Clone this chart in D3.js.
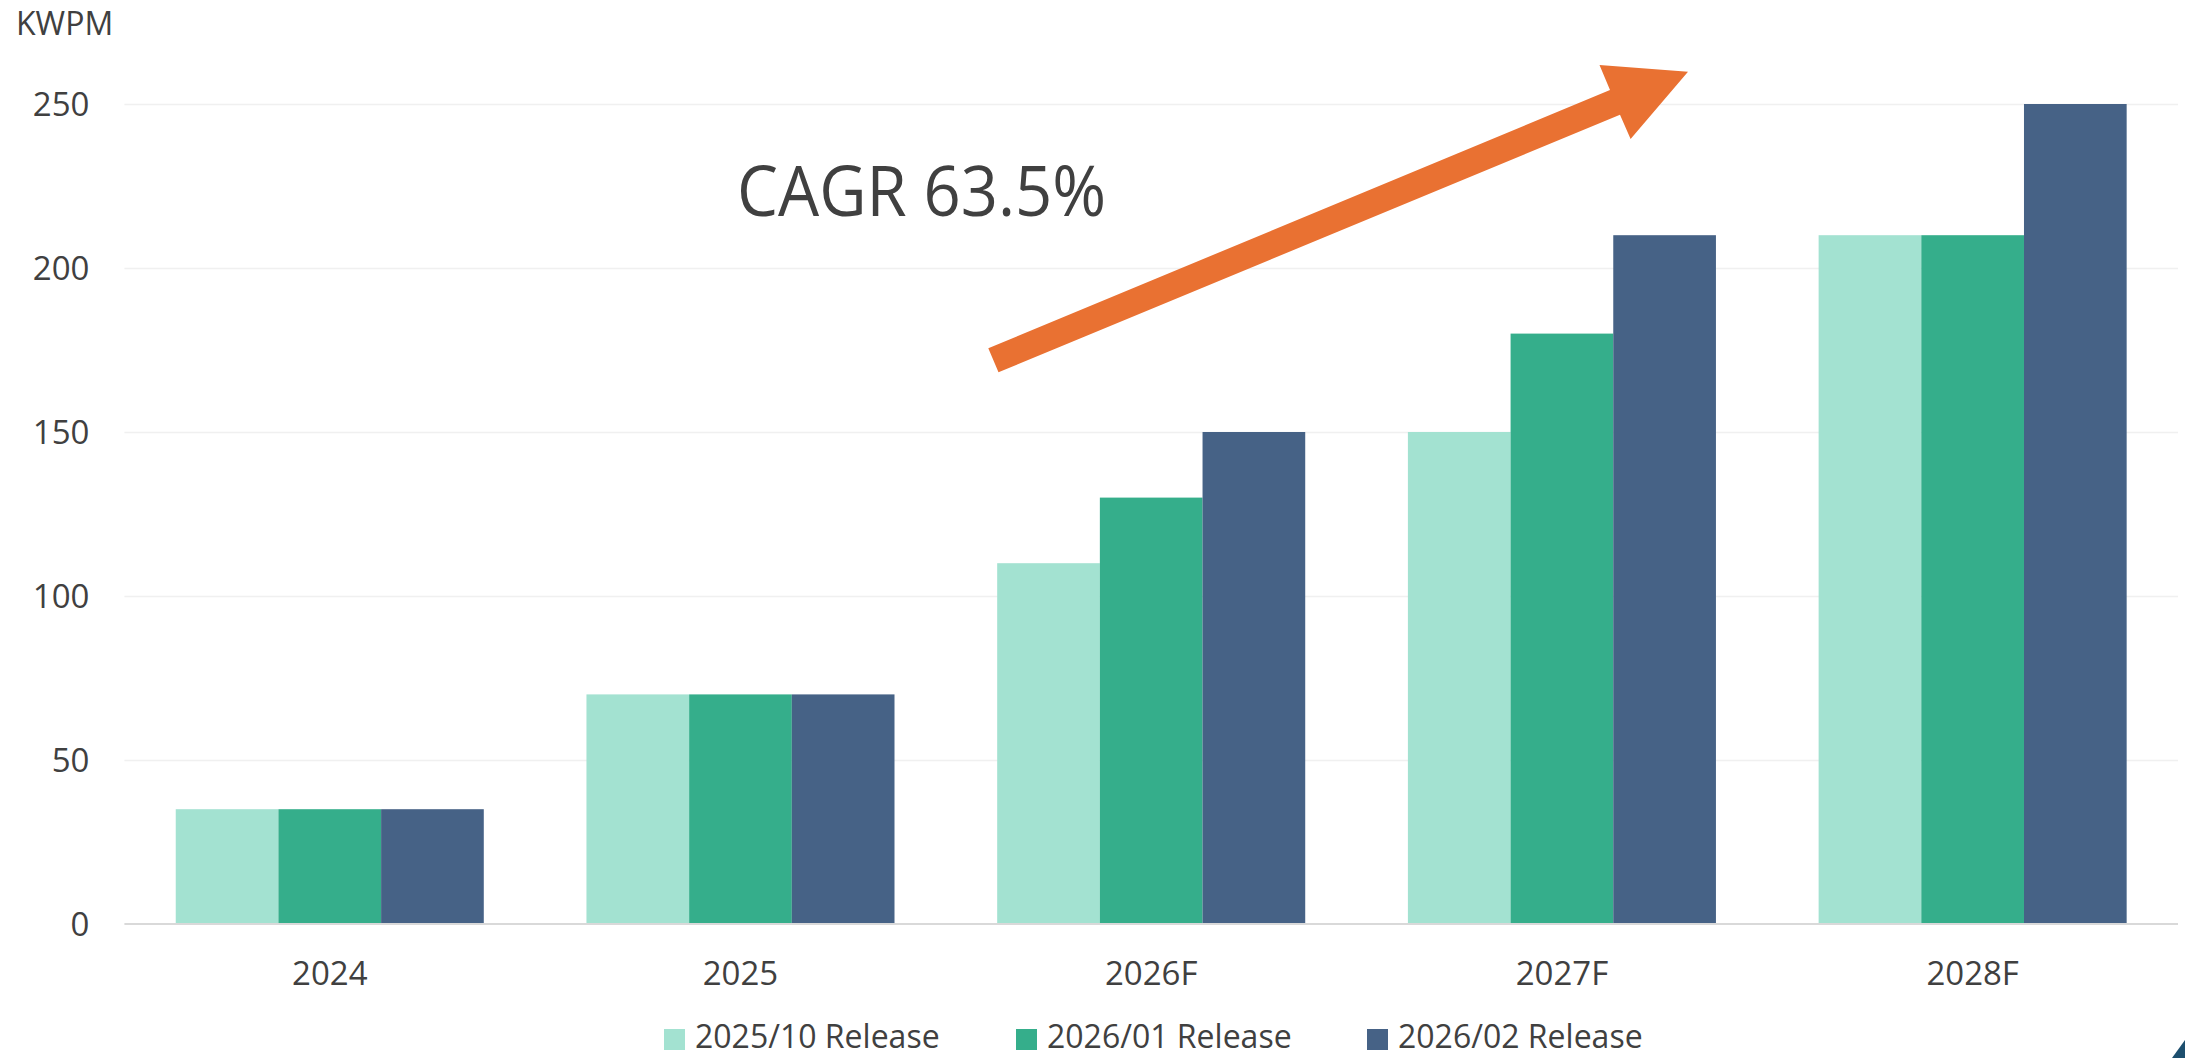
<!DOCTYPE html>
<html>
<head>
<meta charset="utf-8">
<script src="https://cdn.jsdelivr.net/npm/d3@7"></script>
<style>
    html, body { margin: 0; padding: 0; background: #ffffff; }
    svg { display: block; }
    text { font-family: "Open Sans", "Noto Sans", sans-serif; fill: #404040; }
</style>
</head>
<body>
<svg id="chart" width="2185" height="1058"></svg>
<script>
// --- Data ---
const categories = ["2024", "2025", "2026F", "2027F", "2028F"];
const seriesNames = ["2025/10 Release", "2026/01 Release", "2026/02 Release"];
const release202510 = [35, 70, 110, 150, 210];
const release202601 = [35, 70, 130, 180, 210];
const release202602 = [35, 70, 150, 210, 250];
const yTicks = [0, 50, 100, 150, 200, 250];
const unitLabel = "KWPM";
const cagrLabel = "CAGR 63.5%";

// --- Styles ---
const colors = ["#a3e2d1", "#35ae8b", "#466286"];
const arrowColor = "#e97132";
const textColor = "#404040";

// --- Layout ---
const W = 2185, H = 1058;
const plot = { left: 124.4, right: 2178, top: 104, bottom: 924 };

const svg = d3.select("#chart");

const x = d3.scaleBand()
    .domain(categories)
    .range([plot.left, plot.right])
    .paddingInner(0.25)
    .paddingOuter(0.125);

const xInner = d3.scaleBand()
    .domain(seriesNames)
    .range([0, x.bandwidth()])
    .padding(0);

const y = d3.scaleLinear()
    .domain([0, 250])
    .range([plot.bottom, plot.top]);

const color = d3.scaleOrdinal().domain(seriesNames).range(colors);

const seriesValues = [release202510, release202601, release202602];
const rows = categories.map((c, i) => ({
    category: c,
    values: seriesNames.map((s, j) => ({ series: s, value: seriesValues[j][i] }))
}));

// --- Gridlines + y axis ---
const yAxis = svg.append("g")
    .attr("transform", `translate(${plot.left},0)`)
    .call(d3.axisLeft(y)
        .tickValues(yTicks)
        .tickSize(-(plot.right - plot.left))
        .tickPadding(35));

yAxis.select(".domain").remove();
yAxis.selectAll(".tick line")
    .attr("stroke", d => d === 0 ? "none" : "#f0f0f0")
    .attr("stroke-width", 1.5);
yAxis.selectAll(".tick text")
    .attr("font-family", "'Open Sans', sans-serif")
    .attr("font-size", 33)
    .attr("fill", textColor)
    .attr("dy", "0.35em");

// --- Bars ---
const groups = svg.append("g").attr("class", "bars")
    .selectAll("g")
    .data(rows)
    .join("g")
    .attr("transform", d => `translate(${x(d.category)},0)`);

groups.selectAll("rect")
    .data(d => d.values)
    .join("rect")
    .attr("x", d => xInner(d.series))
    .attr("y", d => y(d.value))
    .attr("width", xInner.bandwidth())
    .attr("height", d => y(0) - y(d.value))
    .attr("fill", d => color(d.series));

// --- Baseline + x axis ---
const xAxis = svg.append("g")
    .attr("transform", `translate(0,${plot.bottom})`)
    .call(d3.axisBottom(x).tickSize(0));

xAxis.select(".domain")
    .attr("stroke", "#d9d9d9")
    .attr("stroke-width", 2)
    .attr("d", `M${plot.left},0H${plot.right}`);
xAxis.selectAll(".tick text")
    .attr("font-family", "'Open Sans', sans-serif")
    .attr("font-size", 33)
    .attr("fill", textColor)
    .attr("y", 61)
    .attr("dy", 0);

// --- Unit label ---
svg.append("text")
    .attr("x", 16)
    .attr("y", 35)
    .attr("font-size", 32)
    .text(unitLabel);

// --- Annotation: CAGR arrow ---
const arrowPts = [
    [988.3, 348.3], [1610, 90], [1599.5, 65], [1688, 71.7],
    [1630.6, 139], [1620, 114.7], [998.5, 372.3]
];
svg.append("polygon")
    .attr("points", arrowPts.map(p => p.join(",")).join(" "))
    .attr("fill", arrowColor);

svg.append("text")
    .attr("x", 737)
    .attr("y", 216)
    .attr("font-size", 69)
    .attr("textLength", 369)
    .attr("lengthAdjust", "spacingAndGlyphs")
    .text(cagrLabel);

// --- Legend ---
const legendX = [664, 1016, 1367];
const legend = svg.append("g").attr("class", "legend")
    .selectAll("g")
    .data(seriesNames)
    .join("g")
    .attr("transform", (d, i) => `translate(${legendX[i]},1029)`);

legend.append("rect")
    .attr("width", 21)
    .attr("height", 21)
    .attr("fill", d => color(d));

legend.append("text")
    .attr("x", 31)
    .attr("y", 19)
    .attr("font-size", 32)
    .text(d => d);

// corner mark
svg.append("polygon")
    .attr("points", "2172,1058 2185,1040 2185,1058")
    .attr("fill", "#1d4f6e");
</script>
</body>
</html>
